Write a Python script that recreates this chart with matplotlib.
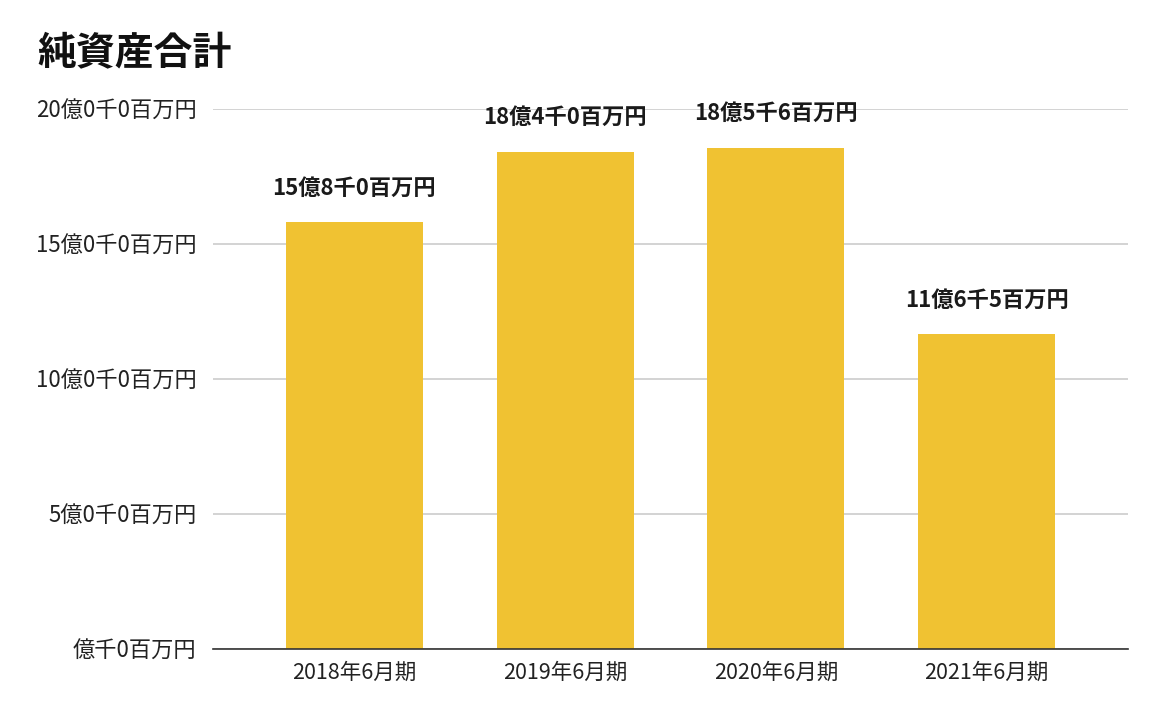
import matplotlib.pyplot as plt

plt.rcParams['font.family'] = ['Noto Sans CJK JP', 'DejaVu Sans']

# data (百万円)
periods = ['2018年6月期', '2019年6月期', '2020年6月期', '2021年6月期']
net_assets = [1580, 1840, 1856, 1165]
bar_labels = ['15億8千0百万円', '18億4千0百万円', '18億5千6百万円', '11億6千5百万円']
y_ticks = [0, 500, 1000, 1500, 2000]
y_tick_labels = ['億千0百万円', '5億0千0百万円', '10億0千0百万円', '15億0千0百万円', '20億0千0百万円']

fig = plt.figure(figsize=(11.64, 7.2), dpi=100)
ax = fig.add_axes([0.183, 0.0986, 0.786, 0.75])

x = range(len(periods))
ax.bar(x, net_assets, width=0.65, color='#F0C232', zorder=3)

for xi, v, lab in zip(x, net_assets, bar_labels):
    ax.text(xi, v + 128, lab, ha='center', va='center', fontsize=16,
            fontweight='bold', color='#1a1a1a')

ax.set_xlim(-0.67, 3.67)
ax.set_ylim(0, 2000)
ax.set_xticks(list(x))
ax.set_xticklabels(periods, fontsize=15.5, color='#222222')
ax.set_yticks(y_ticks)
ax.set_yticklabels(y_tick_labels, fontsize=16, color='#222222')
ax.tick_params(axis='both', length=0)
ax.tick_params(axis='y', pad=12)
ax.tick_params(axis='x', pad=9)

ax.grid(axis='y', color='#cccccc', linewidth=1.2, zorder=0)
ax.set_axisbelow(True)
for s in ['top', 'right', 'left']:
    ax.spines[s].set_visible(False)
ax.spines['bottom'].set_color('#333333')
ax.spines['bottom'].set_linewidth(1.2)
ax.spines['bottom'].set_zorder(4)

fig.text(0.032, 0.925, '純資産合計', fontsize=28, fontweight='bold',
         ha='left', va='center', color='#111111')

fig.savefig('out.png', dpi=100)
